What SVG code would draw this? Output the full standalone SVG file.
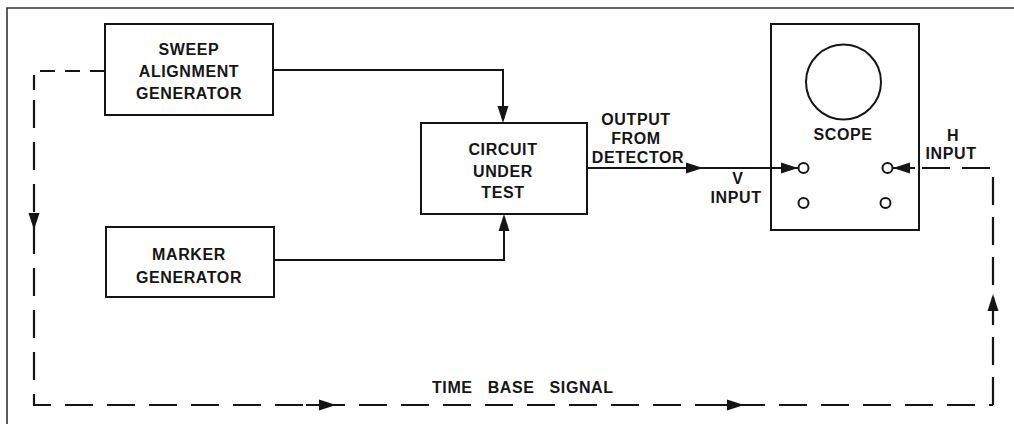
<svg xmlns="http://www.w3.org/2000/svg" xmlns:xlink="http://www.w3.org/1999/xlink" width="1014" height="424" viewBox="0 0 1014 424">
<style>
.box{fill:none;stroke:#151515;stroke-width:2}
.ln{fill:none;stroke:#151515;stroke-width:2}
.dl{fill:none;stroke:#151515;stroke-width:2.2;stroke-dasharray:28 14}
.ds{fill:none;stroke:#151515;stroke-width:2.2;stroke-dasharray:15 10}
.frame{fill:none;stroke:#333;stroke-width:1.6}
.t{font-family:"Liberation Sans",Arial,sans-serif;font-weight:bold;font-size:16px;fill:#151515;text-anchor:middle;letter-spacing:0.6px}
.jack{fill:#fff;stroke:#151515;stroke-width:2}
</style>
<defs>
<path id="arr" d="M0,0 L-17,-5.5 L-17,5.5 Z" fill="#151515"/>
</defs>
<rect width="1014" height="424" fill="#fff"/>
<path class="frame" d="M7,424 L7,8 L1014,8"/>

<g id="sweep">
<rect class="box" x="105" y="24" width="168" height="91"/>
<text class="t" x="189" y="55">SWEEP</text>
<text class="t" x="189" y="77">ALIGNMENT</text>
<text class="t" x="189" y="99">GENERATOR</text>
</g>

<g id="marker">
<rect class="box" x="106" y="227" width="168" height="70"/>
<text class="t" x="189" y="260">MARKER</text>
<text class="t" x="189" y="283">GENERATOR</text>
</g>

<g id="cut">
<rect class="box" x="421" y="123" width="166" height="91"/>
<text class="t" x="503" y="155">CIRCUIT</text>
<text class="t" x="503" y="177">UNDER</text>
<text class="t" x="503" y="198">TEST</text>
</g>

<g id="scope">
<rect class="box" x="771" y="24" width="148" height="206"/>
<circle class="box" cx="843.5" cy="82" r="37.5"/>
<text class="t" x="843" y="140">SCOPE</text>
<circle class="jack" cx="803.5" cy="168" r="5"/>
<circle class="jack" cx="887.5" cy="168" r="5"/>
<circle class="jack" cx="803.5" cy="203" r="5"/>
<circle class="jack" cx="885.5" cy="203" r="5"/>
</g>

<g id="labels">
<text class="t" x="636" y="125">OUTPUT</text>
<text class="t" x="636" y="144">FROM</text>
<text class="t" x="638" y="163">DETECTOR</text>
<text class="t" x="738" y="184">V</text>
<text class="t" x="736" y="203">INPUT</text>
<text class="t" x="953" y="141">H</text>
<text class="t" x="951" y="159">INPUT</text>
<text class="t" x="432" y="393" style="text-anchor:start;word-spacing:10px">TIME BASE SIGNAL</text>
</g>

<g id="connectors">
<path class="ln" d="M273,70 L503,70 L503,118"/>
<use xlink:href="#arr" transform="translate(503,123) rotate(90)"/>
<path class="ln" d="M274,260 L504,260 L504,219"/>
<use xlink:href="#arr" transform="translate(504,214) rotate(-90)"/>
<path class="ln" d="M587,168 L798,168"/>
<use xlink:href="#arr" transform="translate(703,168)"/>
<use xlink:href="#arr" transform="translate(798,168)"/>
<path class="ln" d="M893,168 L915,168"/>
<use xlink:href="#arr" transform="translate(893,168) rotate(180)"/>
<path class="dl" style="stroke-dasharray:28 12" d="M993,405 L993,168 L920,168"/>
<use xlink:href="#arr" transform="translate(993,294) rotate(-90)"/>
<path class="ds" d="M105,71 L34,71 L34,100"/>
<path class="dl" d="M34,100 L34,405 L993,405"/>
<use xlink:href="#arr" transform="translate(34,230) rotate(90)"/>
<path class="ln" d="M306,405 L342,405"/>
<use xlink:href="#arr" transform="translate(336,405)"/>
<path class="ln" d="M718,405 L752,405"/>
<use xlink:href="#arr" transform="translate(744,405)"/>
</g>
</svg>
